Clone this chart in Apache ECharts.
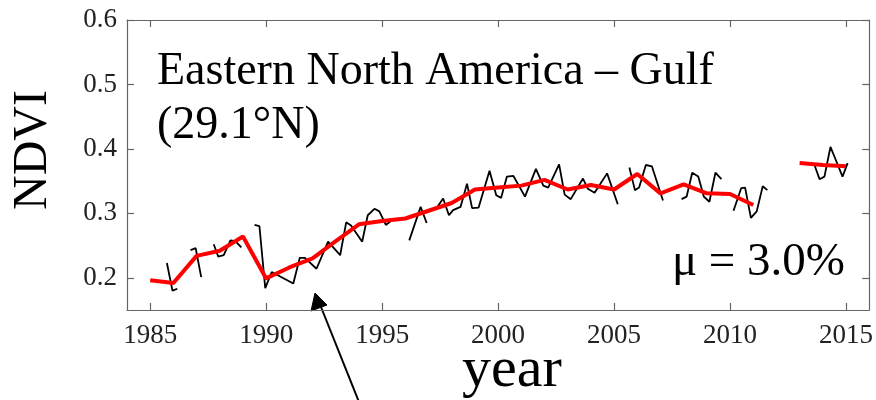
<!DOCTYPE html>
<html>
<head>
<meta charset="utf-8">
<script src="https://cdn.jsdelivr.net/npm/echarts@6/dist/echarts.min.js"></script>
<style>html,body{margin:0;padding:0;background:#fff}#c{width:876px;height:400px}</style>
</head>
<body>
<div id="c"></div>
<script>
// Annual mean NDVI (red)
const years = [1985,1986,1987,1988,1989,1990,1991,1992,1993,1994,1995,1996,1997,1998,1999,2000,2001,2002,2003,2004,2005,2006,2007,2008,2009,2010,2011,2012,2013,2014,2015];
const annualNDVI = [0.196,0.192,0.234,0.242,0.264,0.199,0.216,0.230,0.257,0.283,0.288,0.292,0.304,0.316,0.337,0.340,0.343,0.352,0.337,0.344,0.337,0.361,0.331,0.345,0.331,0.330,0.313,null,0.378,0.375,0.373];

// Seasonal NDVI (black), null = gap
const seasonT = [1985.72,1985.96,1986.17,null,
  1986.74,1986.96,1987.20,null,
  1987.74,1987.93,1988.17,1988.46,1988.67,1988.93,null,
  1989.50,1989.71,1989.96,1990.24,1991.17,1991.45,1991.67,1992.17,1992.67,1993.19,1993.45,1993.66,1994.14,1994.38,1994.67,1994.88,1995.16,1995.45,null,
  1996.17,1996.66,1996.92,null,
  1997.38,1997.63,1997.88,1998.06,1998.38,1998.66,1998.88,1999.16,1999.63,1999.92,2000.13,2000.38,2000.66,2001.16,2001.63,2001.95,2002.16,2002.63,2002.87,2003.13,2003.66,2003.87,2004.16,2004.70,2005.16,null,
  2005.66,2005.90,2006.08,2006.37,2006.63,2007.11,null,
  2007.91,2008.13,2008.37,2008.63,2008.87,2009.11,2009.37,2009.63,null,
  2010.15,2010.48,2010.65,2010.90,2011.15,2011.41,2011.61,null,
  2013.64,2013.86,2014.07,2014.33,2014.57,2014.85,2015.07];
const seasonV = [0.223,0.180,0.183,null,
  0.243,0.246,0.201,null,
  0.252,0.233,0.235,0.258,0.257,0.247,null,
  0.282,0.280,0.184,0.209,0.191,0.231,0.231,0.214,0.256,0.235,0.286,0.281,0.256,0.297,0.307,0.303,0.282,0.290,null,
  0.258,0.310,0.285,null,
  0.310,0.323,0.297,0.305,0.310,0.346,0.308,0.309,0.366,0.328,0.324,0.357,0.358,0.326,0.369,0.343,0.340,0.376,0.329,0.322,0.354,0.338,0.332,0.362,0.314,null,
  0.371,0.336,0.340,0.375,0.373,0.320,null,
  0.322,0.326,0.363,0.357,0.326,0.318,0.363,0.353,null,
  0.304,0.339,0.340,0.293,0.303,0.342,0.336,null,
  0.375,0.353,0.357,0.403,0.382,0.357,0.378];

const xTicks = [1985,1990,1995,2000,2005,2010,2015];
const yTicks = [0.2,0.3,0.4,0.5,0.6];

const annualData = years.map((y,i)=> annualNDVI[i]===null ? ['-','-'] : [y, annualNDVI[i]]);
const seasonData = seasonT.map((t,i)=> t===null ? ['-','-'] : [t, seasonV[i]]);

const FONT = '"Liberation Serif", "DejaVu Serif", serif';
const axisCol = '#666666';

function xAx(pos, show){
  return {
    type:'value', position:pos, min:1984, max:2016,
    axisLine:{show:true, onZero:false, lineStyle:{color:axisCol, width:1.2}},
    axisTick:{show:true, inside:true, length:7, customValues:xTicks, lineStyle:{color:axisCol, width:1.2}},
    axisLabel:{show:show, customValues:xTicks, color:'#222', fontFamily:FONT, fontSize:27, margin:12,
      formatter:v=>String(Math.round(v))},
    splitLine:{show:false}
  };
}
function yAx(pos, show){
  return {
    type:'value', position:pos, min:0.15, max:0.6,
    axisLine:{show:true, onZero:false, lineStyle:{color:axisCol, width:1.2}},
    axisTick:{show:true, inside:true, length:7, customValues:yTicks, lineStyle:{color:axisCol, width:1.2}},
    axisLabel:{show:show, customValues:yTicks, color:'#222', fontFamily:FONT, fontSize:27, margin:10,
      formatter:v=>v.toFixed(1)},
    splitLine:{show:false}
  };
}

const chart = echarts.init(document.getElementById('c'), null, {renderer:'canvas'});
chart.setOption({
  animation:false,
  backgroundColor:'#fff',
  grid:{left:127, top:20, right:5, bottom:90, containLabel:false},
  xAxis:[xAx('bottom', true), xAx('top', false)],
  yAxis:[yAx('left', true), yAx('right', false)],
  series:[
    {type:'line', data:seasonData, showSymbol:false, connectNulls:false,
      lineStyle:{color:'#000', width:1.8}, z:2},
    {type:'line', data:annualData, showSymbol:false, connectNulls:false,
      lineStyle:{color:'#ff0000', width:4}, z:3}
  ],
  graphic:[
    {type:'text', left:157, top:45, style:{text:'Eastern North America – Gulf\n(29.1°N)', font:'46px '+FONT, fill:'#000', lineHeight:54}},
    {type:'text', right:31, top:239, style:{text:'μ = 3.0%', font:'47px '+FONT, fill:'#000'}},
    {type:'text', left:462, top:342, style:{text:'year', font:'58px '+FONT, fill:'#000'}},
    {type:'text', x:33, y:150, rotation:Math.PI/2, style:{text:'NDVI', font:'48px '+FONT, fill:'#000', align:'center', verticalAlign:'middle'}},
    {type:'line', shape:{x1:359, y1:402, x2:319, y2:302}, style:{stroke:'#000', lineWidth:2}},
    {type:'polygon', shape:{points:[[315,293],[311,311],[327,305]]}, style:{fill:'#000', stroke:'#000', lineWidth:1}}
  ]
});
</script>
</body>
</html>
